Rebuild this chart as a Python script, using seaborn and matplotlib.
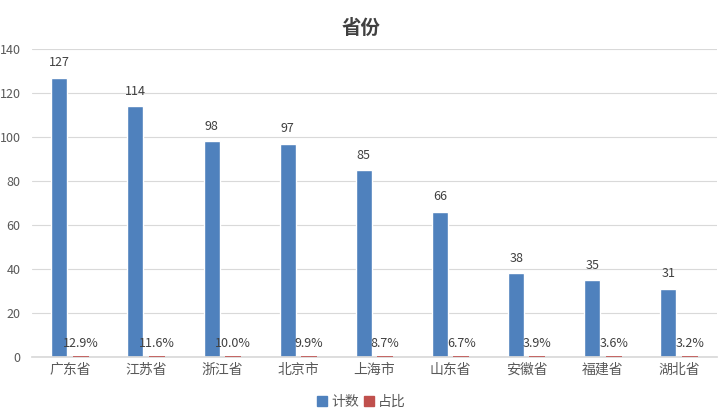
import matplotlib

matplotlib.use("Agg")
import matplotlib.pyplot as plt
import pandas as pd
import seaborn as sns

provinces = ["广东省", "江苏省", "浙江省", "北京市", "上海市", "山东省", "安徽省", "福建省", "湖北省"]
counts = [127, 114, 98, 97, 85, 66, 38, 35, 31]
ratios = [0.129, 0.116, 0.100, 0.099, 0.087, 0.067, 0.039, 0.036, 0.032]
series_names = ["计数", "占比"]
colors = ["#4f81bd", "#c0504d"]

sns.set_theme(style="white")
plt.rcParams["font.family"] = ["Noto Sans CJK SC", "DejaVu Sans"]

df = pd.DataFrame({
    "省份": provinces * 2,
    "值": counts + ratios,
    "系列": [series_names[0]] * len(provinces) + [series_names[1]] * len(provinces),
})

fig = plt.figure(figsize=(7.23, 4.17), dpi=100)
ax = fig.add_axes([0.044, 0.144, 0.948, 0.7385])

sns.barplot(data=df, x="省份", y="值", hue="系列", palette=colors, saturation=1,
            width=0.56, gap=0.25, ax=ax, legend=False)

ax.set_ylim(0, 140)
ax.set_yticks(range(0, 141, 20))
ax.yaxis.grid(True, color="#d9d9d9", linewidth=0.8)
ax.set_axisbelow(True)
for side in ("left", "right", "top"):
    ax.spines[side].set_visible(False)
ax.spines["bottom"].set_color("#d9d9d9")
ax.tick_params(axis="both", length=0, labelcolor="#595959")
ax.tick_params(axis="y", labelsize=9, pad=8)
ax.tick_params(axis="x", labelsize=10, pad=4)
ax.set_xlabel("")
ax.set_ylabel("")

# 数据标签
blue, red = ax.containers[0], ax.containers[1]
# 占比数值很小，给柱子加同色描边，使其在底部显示为细线（放在坐标轴线之上）
for p in red:
    p.set_edgecolor(colors[1])
    p.set_linewidth(1.2)
    p.set_zorder(3)
ax.bar_label(blue, labels=[str(c) for c in counts], padding=6,
             fontsize=9, color="#404040")
ax.bar_label(red, labels=[f"{r * 100:.1f}%" for r in ratios], padding=5,
             fontsize=9, color="#404040")

fig.suptitle("省份", x=0.5, y=0.955, fontsize=14, fontweight="bold", color="#404040")

handles = [plt.Rectangle((0, 0), 1, 1, color=c) for c in colors]
fig.legend(handles, series_names, loc="lower center", ncol=2, frameon=False,
           bbox_to_anchor=(0.5, -0.01), fontsize=10, handlelength=0.7,
           handleheight=0.7, handletextpad=0.3, columnspacing=0.4,
           labelcolor="#595959")

fig.savefig("out.png", dpi=100)
